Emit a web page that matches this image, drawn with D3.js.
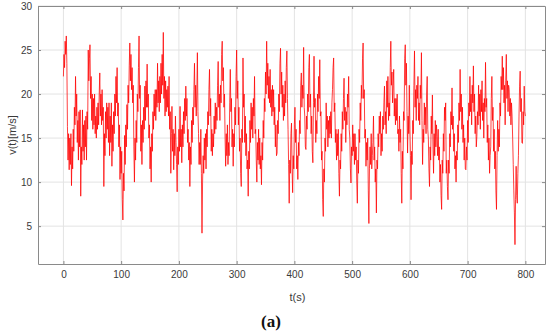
<!DOCTYPE html>
<html>
<head>
<meta charset="utf-8">
<script src="https://cdn.jsdelivr.net/npm/d3@7"></script>
<style>
    body { margin: 0; background: #fff; }
    svg { font-family: Arial, "Liberation Sans", sans-serif; }
    .grid line { stroke: #e3e3e3; stroke-width: 1; }
    .axis path, .axis line { stroke: #8a8a8a; }
    .axis text { fill: #3a3a3a; font-size: 10px; }
    .line { fill: none; stroke: #ff0000; stroke-width: 0.75; stroke-linejoin: round; }
</style>
</head>
<body>
<svg id="chart" width="550" height="333"></svg>
<script>
// wind speed v(t) in m/s, one sample per second from t = 0 s
var sampleStep = 1;
var speed = [
    22, 24.5, 23, 26, 24.5, 26.6, 23.5, 16.3, 12.5, 15.5, 11.4, 15, 12, 15.5, 9.6, 14, 11.5, 16, 13.5, 18.5,
    16.5, 22, 17.5, 20, 14.5, 17, 12.5, 18, 14, 18.2, 8.4, 14, 12, 18.2, 13.5, 16.5, 12.5, 17, 14, 17.5,
    12.5, 18, 16, 25, 21.5, 24, 25.6, 19.5, 22, 17, 20, 16, 19.5, 16.5, 20, 15.5, 17.5, 15, 18.5, 16,
    19, 16.5, 20, 22.4, 17.5, 20, 16.5, 20.5, 17, 18.5, 9.5, 15.5, 13, 18, 15, 19, 16, 18.5, 14.5, 19,
    13, 17.5, 14.5, 19, 11.8, 16.5, 13.5, 18, 15.5, 20, 17.5, 22, 19, 23, 17.5, 19, 14, 16.5, 10.3, 14,
    11, 13.5, 8, 5.7, 11, 9, 15.3, 12, 16.5, 14, 18.8, 16, 21, 19, 23.2, 25.8, 21.5, 24.5, 20.5, 23,
    19, 21, 14, 10, 15, 12.5, 17, 14.5, 20, 18, 23, 26.6, 19.5, 21, 13.5, 16.5, 12, 17, 14.5, 18.5,
    16, 20.9, 17, 21.5, 18.5, 23.4, 18.5, 20, 15, 16.5, 11.5, 14, 10, 15.5, 13.5, 18, 16, 20, 17.5, 20.5,
    17, 20.5, 18.5, 23.5, 19, 21.5, 18, 22, 19, 23.5, 20, 24.5, 21, 27, 19.5, 22, 17.5, 21.5, 18, 20.5,
    18.5, 20.9, 17.5, 22, 16, 18, 11, 15.5, 18.6, 13.5, 16, 11.4, 15.5, 13, 17.5, 14.5, 12, 8.9, 14, 12,
    16, 13.5, 18.6, 14, 16, 12.2, 16.5, 14, 18, 15.5, 19.5, 17, 20.9, 17.5, 19.5, 14.5, 16, 12.5, 14.5, 9.5,
    14, 12, 17, 14.5, 18.5, 16.5, 20.5, 23.5, 18.5, 21, 17.5, 20, 24.7, 18, 15.5, 12, 14.5, 12, 16, 11,
    4.2, 10, 13, 11, 15, 12.5, 15.5, 11.5, 16, 14, 18, 16.5, 20.5, 22.8, 17.5, 19.5, 13.5, 16, 13, 15.5,
    14, 17.5, 15.5, 19, 16, 18.5, 17, 21, 23.7, 18.5, 20, 17, 21, 19, 24.5, 26, 21.5, 23, 18.5, 20,
    15, 11.8, 15.5, 13, 16.5, 12, 14.5, 13, 19, 22.8, 18, 19.5, 14, 16, 11.8, 15.5, 14, 18.5, 16.5, 22,
    25, 19.5, 21.5, 16.5, 18.5, 13.5, 15, 11, 9.5, 16, 14.5, 24.1, 18.5, 20, 14.5, 17.5, 13, 15.5, 11.5, 12.5,
    8.4, 13.5, 11.5, 17, 14.5, 19, 16, 18.5, 15, 19.5, 17.5, 22, 15.5, 16, 12.5, 10, 14.5, 12.5, 16, 12,
    15, 11.5, 13, 9.7, 14.5, 12.5, 17, 15, 19.5, 18, 22.5, 20, 26, 21, 23.5, 19.5, 22, 19, 22.8, 18.5,
    20.5, 17.5, 21, 18, 20.5, 16.5, 18.5, 14, 16.5, 13, 13.3, 17, 15.5, 20, 18, 23.5, 25.2, 20, 22.5, 18.5,
    21, 17, 20, 17.5, 21.5, 19, 23, 24.9, 19.5, 16, 12, 7.6, 12.5, 11, 15.5, 16.7, 11.5, 8.8, 13, 11.5,
    16.5, 18.5, 14.5, 16, 11.5, 13, 10.3, 14.5, 13, 17, 15.5, 21, 22.4, 18.5, 21, 19.5, 25.3, 18.5, 17.5, 14,
    13.7, 17.5, 16, 20, 18, 23, 24.5, 18.5, 20, 15.5, 17.5, 13.5, 12.2, 19, 24.3, 18.5, 19.5, 14.5, 17, 15.5,
    20, 18, 22, 19.5, 23.9, 17.5, 18, 12.5, 13.5, 8, 6.1, 11.5, 10, 15, 13.5, 19, 16, 17.5, 14, 17,
    15, 17.5, 15.5, 18, 15, 19, 20.5, 23, 24.1, 18, 19, 14.5, 16, 12.5, 15.5, 13, 16, 11, 8.4, 12.5,
    11.5, 15.5, 13.5, 18, 16, 19.5, 21.8, 17, 18.5, 14.5, 18, 16.5, 20, 18.5, 22, 16, 15, 11.5, 9.9, 14,
    13, 16.5, 13.5, 15.5, 12, 15.5, 12.5, 14, 10, 7.6, 12.5, 11, 16, 14.5, 19, 17, 21, 19.5, 24, 25.8,
    19.5, 20.5, 15, 16, 11.8, 14.5, 12.5, 15, 9, 5.3, 11.5, 14, 12, 15.5, 11.5, 13, 14.5, 17.5, 12.5, 14,
    10, 11.5, 6.5, 12.5, 11.5, 15.5, 14, 17.5, 15.5, 18, 13, 15.5, 13.5, 17.5, 16, 19, 20.9, 16.5, 18, 15.5,
    21.5, 18.5, 22, 17, 19, 17.5, 23, 26, 21, 22.5, 19, 21, 22.8, 17.5, 19.5, 16.5, 19.5, 17, 20, 15.5,
    16, 13.5, 17.5, 14.5, 16, 11, 7.6, 13.5, 11.5, 18, 17, 24, 25.6, 21, 23.5, 18, 13.3, 17.5, 15.5, 21,
    16, 13, 8, 13.5, 12, 17, 15.5, 21, 24.9, 18.5, 20.5, 17, 21, 19.5, 22, 17, 19, 16.5, 21, 19.5,
    24.7, 17, 12, 16, 14.5, 19, 16.5, 18.5, 15.5, 20, 22, 16, 15, 11.5, 9.5, 14, 12.5, 17.5, 15.5, 19.9,
    14, 11, 15.5, 13, 17, 14, 16.5, 15.2, 13, 16, 12.5, 14, 10, 12, 8.5, 6.9, 12.5, 11, 15.5, 13.5,
    18.5, 17, 19, 11, 12.5, 9.5, 8, 12.5, 11, 15.5, 14, 18, 16.5, 20.7, 16, 17.5, 13.5, 15.5, 11.5, 13,
    10, 13.5, 12.5, 16.5, 14.5, 19, 17, 22.8, 18, 20, 16, 18.5, 14.5, 16.5, 12.5, 15, 11.5, 11.4, 14, 12.5,
    17, 14.5, 19, 17.5, 22, 18, 20, 16.5, 21, 19, 23.2, 18, 20, 15.5, 17.5, 14, 15.2, 18, 16.5, 21,
    17.5, 20, 16, 20.5, 18, 21.5, 17, 19, 15, 19.5, 18, 23.6, 18.5, 19.5, 14.5, 16.5, 12.5, 15, 11, 13,
    14, 19.5, 22, 17, 18.5, 13.5, 16, 11.5, 13.5, 9, 6.9, 13, 17, 13.5, 16, 14, 19, 17.5, 22, 20.5,
    24.3, 20.5, 23, 19, 21, 16.5, 21.5, 24.5, 19.5, 21.5, 18, 21, 20.5, 17.5, 19.5, 16.5, 19, 17.5, 15, 12,
    9, 6.5, 2.9, 8, 11.8, 8.5, 7.6, 11, 13, 17.5, 20.9, 22.6, 18, 19.5, 14.5, 14.4, 18, 16.5, 20.9, 18,
    17.5
];

var xTicks = [0, 100, 200, 300, 400, 500, 600, 700, 800];
var yTicks = [5, 10, 15, 20, 25, 30];

var data = speed.map(function(v, i) { return {t: i * sampleStep, v: v}; });

var svg = d3.select("#chart")
    , margin = {top: 6, right: 5, bottom: 69, left: 38}
    , width = +svg.attr("width") - margin.left - margin.right
    , height = +svg.attr("height") - margin.top - margin.bottom
    , g = svg.append("g").attr("transform", "translate(" + margin.left + "," + margin.top + ")")
    ;

var x = d3.scaleLinear().domain([-44, 834]).range([0, width]);
var y = d3.scaleLinear().domain([0.7, 30]).range([height, 0]);

// grid
g.append("g").attr("class", "grid")
    .selectAll("line").data(xTicks).enter().append("line")
    .attr("x1", x).attr("x2", x).attr("y1", 0).attr("y2", height);
g.append("g").attr("class", "grid")
    .selectAll("line").data(yTicks).enter().append("line")
    .attr("y1", y).attr("y2", y).attr("x1", 0).attr("x2", width);

var line = d3.line()
    .x(function(d) { return x(d.t); })
    .y(function(d) { return y(d.v); });

g.append("path")
    .attr("class", "line")
    .attr("d", line(data));

// axes, matlab style: ticks pointing inwards on all four sides
g.append("g")
    .attr("class", "axis axis--x")
    .attr("transform", "translate(0," + height + ")")
    .call(d3.axisBottom(x).tickValues(xTicks).tickSizeInner(-3).tickSizeOuter(0).tickPadding(7));

g.append("g")
    .attr("class", "axis axis--top")
    .call(d3.axisTop(x).tickValues(xTicks).tickSizeInner(-3).tickSizeOuter(0).tickFormat(""));

g.append("g")
    .attr("class", "axis axis--y")
    .call(d3.axisLeft(y).tickValues(yTicks).tickSizeInner(-3).tickSizeOuter(0).tickPadding(6));

g.append("g")
    .attr("class", "axis axis--right")
    .attr("transform", "translate(" + width + ",0)")
    .call(d3.axisRight(y).tickValues(yTicks).tickSizeInner(-3).tickSizeOuter(0).tickFormat(""));

svg.selectAll(".axis text").attr("font-family", null).attr("font-size", null);

// labels
svg.append("text")
    .attr("transform", "translate(12," + (margin.top + height / 2) + ") rotate(-90)")
    .attr("text-anchor", "middle")
    .attr("dy", "0.35em")
    .attr("fill", "#3a3a3a")
    .style("font-size", "11px")
    .text("v(t)[m/s]");

svg.append("text")
    .attr("x", margin.left + x(400) + 3)
    .attr("y", 297)
    .attr("text-anchor", "middle")
    .attr("dy", "0.35em")
    .attr("fill", "#3a3a3a")
    .style("font-size", "11px")
    .text("t(s)");

svg.append("text")
    .attr("x", 271)
    .attr("y", 321)
    .attr("text-anchor", "middle")
    .attr("dy", "0.35em")
    .style("font-family", "'Liberation Serif', 'DejaVu Serif', serif")
    .style("font-weight", "bold")
    .style("font-size", "17px")
    .attr("fill", "#111")
    .text("(a)");
</script>
</body>
</html>
